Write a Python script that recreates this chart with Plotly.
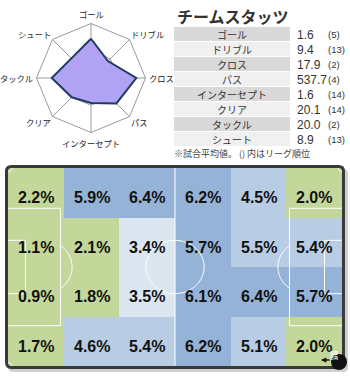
import numpy as np
import plotly.graph_objects as go

# ---------------- data ----------------
stat_names = ["ゴール", "ドリブル", "クロス", "パス", "インターセプト", "クリア", "タックル", "シュート"]
stat_values = ["1.6", "9.4", "17.9", "537.7", "1.6", "20.1", "20.0", "8.9"]
stat_ranks = ["(5)", "(13)", "(2)", "(4)", "(14)", "(14)", "(2)", "(13)"]
radar_scores = [0.72, 0.44, 0.83, 0.66, 0.46, 0.50, 0.72, 0.51]

zone_pct = [
    [2.2, 5.9, 6.4, 6.2, 4.5, 2.0],
    [1.1, 2.1, 3.4, 5.7, 5.5, 5.4],
    [0.9, 1.8, 3.5, 6.1, 6.4, 5.7],
    [1.7, 4.6, 5.4, 6.2, 5.1, 2.0],
]

title_text = "チームスタッツ"
note_text = "※試合平均値。 () 内はリーグ順位"

# ---------------- helpers ----------------
W, H = 350, 380
def px(x):
    return x / W
def py(y):
    return 1 - y / H

FONT = "Noto Sans CJK JP"
NUMFONT = "Liberation Sans"

fig = go.Figure()
shapes = []
annotations = []

# ---------------- radar ----------------
cx, cy, rad = 91.0, 78.0, 54.5
fig.add_trace(go.Scatterpolar(
    r=radar_scores + [radar_scores[0]],
    theta=stat_names + [stat_names[0]],
    fill="toself",
    fillcolor="#b1a3f3",
    line=dict(color="#1f3a64", width=2),
    mode="lines",
    hoverinfo="skip",
    showlegend=False,
))
fig.update_layout(polar=dict(
    domain=dict(x=[px(cx - rad), px(cx + rad)], y=[py(cy + rad), py(cy - rad)]),
    bgcolor="white",
    gridshape="linear",
    radialaxis=dict(range=[0, 1], tickvals=[0.5, 1], showticklabels=False,
                    showline=False, gridcolor="#9a9a9a", gridwidth=1, ticks=""),
    angularaxis=dict(direction="clockwise", rotation=90, gridcolor="#9a9a9a",
                     linecolor="#9a9a9a", linewidth=1, ticks="", showticklabels=False),
))
n = len(stat_names)
for k, nm in enumerate(stat_names):
    ang = np.pi / 2 - 2 * np.pi * k / n
    dx, dy = np.cos(ang), -np.sin(ang)
    lx, ly = cx + (rad + 2.5) * dx, cy + (rad + 3) * dy
    if abs(dx) < 0.1:
        xa = "center"
    elif dx > 0:
        xa = "left"
    else:
        xa = "right"
    if abs(dy) < 0.1:
        ya = "middle"
    elif dy > 0:
        ya = "top"
    else:
        ya = "bottom"
    if abs(dx) > 0.1 and abs(dy) > 0.1:
        lx = cx + (rad + 1) * dx
        ly = cy + (rad - 2) * dy
    annotations.append(dict(x=px(lx), y=py(ly), xref="paper", yref="paper", text=nm, showarrow=False,
                            xanchor=xa, yanchor=ya, borderpad=0,
                            font=dict(family=FONT, size=8.3, color="#222")))

# ---------------- stats table ----------------
annotations.append(dict(x=px(175), y=py(16), xref="paper", yref="paper", text="<b>%s</b>" % title_text,
                        showarrow=False, xanchor="left", yanchor="middle",
                        font=dict(family=FONT, size=16, color="#333")))
row_top, row_h = 27, 15
for i, (nm, val, rk) in enumerate(zip(stat_names, stat_values, stat_ranks)):
    y0 = row_top + row_h * i
    shapes.append(dict(type="rect", xref="paper", yref="paper",
                       x0=px(174), x1=px(290), y0=py(y0), y1=py(y0 + row_h - 1),
                       fillcolor="#d9d9d9" if i % 2 == 0 else "#f0f0f0", line=dict(width=0), layer="below"))
    yc = py(y0 + row_h / 2)
    annotations.append(dict(x=px(232), y=yc, xref="paper", yref="paper", text=nm, showarrow=False,
                            xanchor="center", yanchor="middle", font=dict(family=FONT, size=10, color="#333")))
    annotations.append(dict(x=px(295), y=yc, xref="paper", yref="paper", text=val, showarrow=False,
                            xanchor="left", yanchor="middle", font=dict(family=NUMFONT, size=12, color="#333")))
    annotations.append(dict(x=px(326), y=yc, xref="paper", yref="paper", text=rk, showarrow=False,
                            xanchor="left", yanchor="middle", font=dict(family=NUMFONT, size=9.5, color="#333")))
annotations.append(dict(x=px(172), y=py(153), xref="paper", yref="paper", text=note_text, showarrow=False,
                        xanchor="left", yanchor="middle", font=dict(family=FONT, size=9, color="#444")))

# ---------------- pitch heatmap ----------------
L, Wd = 105.0, 68.0
ncol, nrow = len(zone_pct[0]), len(zone_pct)
xc = [L / ncol * (i + 0.5) for i in range(ncol)]
yc_ = [Wd / nrow * (j + 0.5) for j in range(nrow)]

green, light, mid, dark = "#c4d79b", "#dce6f1", "#b8cce4", "#95b3d7"
zmin, zmax = 0.0, 8.0
t1, t2, t3 = 3.0 / zmax, 4.0 / zmax, 5.6 / zmax
cscale = [[0, green], [t1, green], [t1, light], [t2, light], [t2, mid], [t3, mid], [t3, dark], [1, dark]]

fig.add_trace(go.Heatmap(
    x=xc, y=yc_, z=zone_pct, zmin=zmin, zmax=zmax, colorscale=cscale,
    showscale=False, hoverinfo="skip", xaxis="x", yaxis="y",
))
for j, row in enumerate(zone_pct):
    for i, v in enumerate(row):
        annotations.append(dict(x=xc[i], y=yc_[j], xref="x", yref="y", text="<b>%.1f%%</b>" % v,
                                showarrow=False, yshift=-5,
                                font=dict(family=NUMFONT, size=16, color="#111")))

fig.update_layout(
    xaxis=dict(domain=[px(8), px(342)], range=[0, L], visible=False, fixedrange=True),
    yaxis=dict(domain=[py(366), py(168)], range=[Wd, 0], visible=False, fixedrange=True),
)

lw = dict(color="white", width=1)
def line_shape(path):
    shapes.append(dict(type="path", xref="x", yref="y", path=path, line=lw, layer="above"))

def pts_path(xs, ys):
    return "M" + " L".join("%.3f,%.3f" % (a, b) for a, b in zip(xs, ys))

line_shape("M%.3f,0 L%.3f,%.3f" % (L / 2, L / 2, Wd))
th = np.linspace(0, 2 * np.pi, 80)
line_shape(pts_path(L / 2 + 9.15 * np.cos(th), Wd / 2 + 9.15 * np.sin(th)) + " Z")
for side in (0, 1):
    s = 1 if side == 0 else -1
    gx = 0 if side == 0 else L
    line_shape(pts_path([gx, gx + s * 16.5, gx + s * 16.5, gx],
                        [Wd / 2 - 20.16, Wd / 2 - 20.16, Wd / 2 + 20.16, Wd / 2 + 20.16]))
    line_shape(pts_path([gx, gx + s * 5.5, gx + s * 5.5, gx],
                        [Wd / 2 - 9.16, Wd / 2 - 9.16, Wd / 2 + 9.16, Wd / 2 + 9.16]))
    a = np.arccos(5.5 / 9.15)
    ang = np.linspace(-a, a, 30)
    line_shape(pts_path(gx + s * (11 + 9.15 * np.cos(ang)), Wd / 2 + 9.15 * np.sin(ang)))
    q = np.linspace(0, np.pi / 2, 10)
    line_shape(pts_path(gx + s * 1.2 * np.cos(q), 1.2 * np.sin(q)))
    line_shape(pts_path(gx + s * 1.2 * np.cos(q), Wd - 1.2 * np.sin(q)))

def rounded(x0, y0, x1, y1, r):
    return ("M%.4f,%.4f L%.4f,%.4f Q%.4f,%.4f %.4f,%.4f L%.4f,%.4f Q%.4f,%.4f %.4f,%.4f "
            "L%.4f,%.4f Q%.4f,%.4f %.4f,%.4f L%.4f,%.4f Q%.4f,%.4f %.4f,%.4f Z") % (
        px(x0 + r), py(y0), px(x1 - r), py(y0), px(x1), py(y0), px(x1), py(y0 + r),
        px(x1), py(y1 - r), px(x1), py(y1), px(x1 - r), py(y1),
        px(x0 + r), py(y1), px(x0), py(y1), px(x0), py(y1 - r),
        px(x0), py(y0 + r), px(x0), py(y0), px(x0 + r), py(y0))

shapes.insert(0, dict(type="path", xref="paper", yref="paper", path=rounded(8, 169, 348, 372, 5),
                      fillcolor="#d0d0d0", line=dict(width=0), layer="below"))
shapes.append(dict(type="path", xref="paper", yref="paper", path=rounded(6.5, 166.5, 343.5, 367.5, 5),
                   line=dict(color="#3a3a3a", width=3), layer="above"))

# attack direction icon
shapes.append(dict(type="circle", xref="paper", yref="paper", x0=px(331), x1=px(347), y0=py(354), y1=py(370),
                   fillcolor="#111", line=dict(width=0), layer="above"))
annotations.append(dict(x=px(339), y=py(362), xref="paper", yref="paper", text="<b>攻撃<br>方向</b>",
                        showarrow=False, borderpad=0,
                        font=dict(family=FONT, size=4, color="white")))
annotations.append(dict(x=px(321), y=py(360), xref="paper", yref="paper", ax=10, ay=0, text="",
                        showarrow=True, arrowhead=2, arrowsize=0.7, arrowwidth=1.5, arrowcolor="#111"))

fig.update_layout(
    width=W, height=H, margin=dict(l=0, r=0, t=0, b=0),
    paper_bgcolor="white", plot_bgcolor="white",
    shapes=shapes, annotations=annotations, showlegend=False,
)

fig.write_html("out.html")
